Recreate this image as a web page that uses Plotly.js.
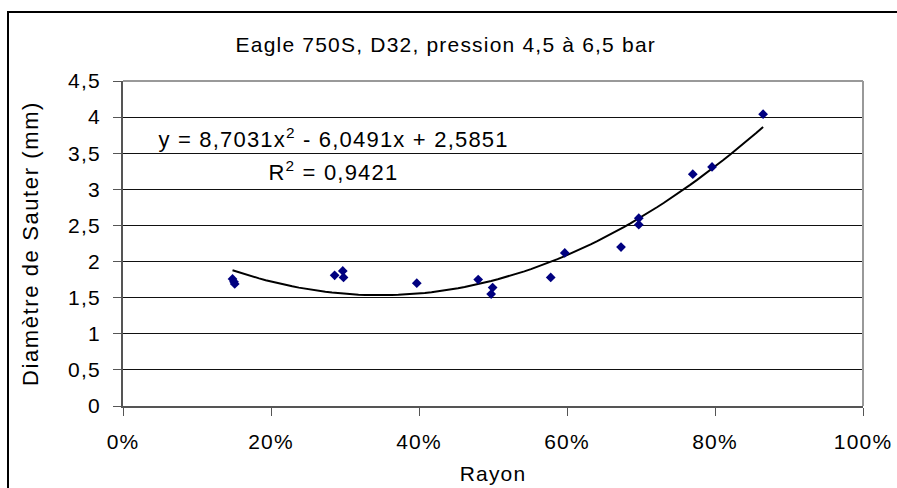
<!DOCTYPE html>
<html>
<head>
<meta charset="utf-8">
<script src="https://cdn.plot.ly/plotly-3.0.1.min.js"></script>
<style>
  html, body { margin: 0; padding: 0; background: #fff; overflow: hidden; }
  #wrap { position: relative; width: 897px; height: 488px; }
  #chart { position: absolute; left: 0; top: 0; width: 897px; height: 488px; }
  #chart text { letter-spacing: 1.2px; }
  #chart .ytitle { letter-spacing: 1.6px; }
  #frame {
    position: absolute; left: 7px; top: 11px; width: 2000px; height: 2000px;
    border-left: 2px solid #000; border-top: 2px solid #000;
    pointer-events: none;
  }
</style>
</head>
<body>
<div id="wrap">
  <div id="chart"></div>
  <div id="frame"></div>
</div>
<script>
// Measured droplet diameters along the spray radius
const rayon = [0.148, 0.150, 0.151, 0.286, 0.297, 0.298, 0.397, 0.480, 0.4995,
               0.4975, 0.578, 0.597, 0.673, 0.697, 0.697, 0.770, 0.796, 0.865];
const diametre = [1.76, 1.72, 1.69, 1.81, 1.87, 1.78, 1.70, 1.75, 1.64,
                  1.55, 1.78, 2.12, 2.20, 2.60, 2.51, 3.21, 3.31, 4.04];

// Second-order polynomial trend line: a*x^2 + b*x + c
const trendCoef = [8.7031, -6.0491, 2.5851];
const trendR2 = 0.9421;

// Axis ticks
const xTickVals = [0, 0.2, 0.4, 0.6, 0.8, 1.0];
const xTickText = ['0%', '20%', '40%', '60%', '80%', '100%'];
const yTickVals = [0, 0.5, 1, 1.5, 2, 2.5, 3, 3.5, 4, 4.5];
const yTickText = ['0', '0,5', '1', '1,5', '2', '2,5', '3', '3,5', '4', '4,5'];

const chartTitle = 'Eagle 750S, D32, pression 4,5 à 6,5 bar';
const xTitle = 'Rayon';
const yTitle = 'Diamètre de Sauter (mm)';

// Trend curve sampled over the measured radius span
const xMin = Math.min(...rayon), xMax = Math.max(...rayon);
const nSteps = 80;
const trendX = [], trendY = [];
for (let i = 0; i <= nSteps; i++) {
  const x = xMin + (xMax - xMin) * i / nSteps;
  trendX.push(x);
  trendY.push(trendCoef[0] * x * x + trendCoef[1] * x + trendCoef[2]);
}

const fr = v => v.toFixed(4).replace('.', ',');
const eqText = 'y = ' + fr(trendCoef[0]) + 'x<sup>2</sup> - ' + fr(-trendCoef[1]) +
               'x + ' + fr(trendCoef[2]);
const r2Text = 'R<sup>2</sup> = ' + fr(trendR2);

const FONT = 'Liberation Sans, Arial, sans-serif';

const traces = [
  {
    x: trendX, y: trendY, type: 'scatter', mode: 'lines',
    line: { color: '#000', width: 2 }, hoverinfo: 'skip'
  },
  {
    x: rayon, y: diametre, type: 'scatter', mode: 'markers',
    marker: { symbol: 'diamond', size: 7.5, color: '#000080' }
  }
];

const layout = {
  width: 897, height: 488,
  margin: { l: 123, r: 34, t: 81, b: 82 },
  paper_bgcolor: '#fff', plot_bgcolor: '#fff',
  showlegend: false,
  separators: ', ',
  font: { family: FONT, size: 21, color: '#000' },
  title: {
    text: chartTitle, font: { family: FONT, size: 21, color: '#000' },
    xref: 'container', x: 0.497, yref: 'container', y: 0.908, yanchor: 'middle'
  },
  xaxis: {
    range: [0, 1], tickvals: xTickVals, ticktext: xTickText,
    showgrid: false, zeroline: false,
    showline: true, linecolor: '#555', linewidth: 2,
    ticks: 'outside', ticklen: 8, tickcolor: '#555', tickwidth: 1,
    ticklabelstandoff: 8,
    tickfont: { family: FONT, size: 21, color: '#000' },
    title: { text: xTitle, font: { family: FONT, size: 21, color: '#000' }, standoff: 14 },
    fixedrange: true
  },
  yaxis: {
    range: [0, 4.5], tickvals: yTickVals, ticktext: yTickText,
    showgrid: true, gridcolor: '#111', gridwidth: 1, zeroline: false,
    showline: true, linecolor: '#555', linewidth: 2,
    ticks: 'outside', ticklen: 8, tickcolor: '#555', tickwidth: 1,
    ticklabelstandoff: 8,
    tickfont: { family: FONT, size: 21, color: '#000' },
    title: { text: yTitle, font: { family: FONT, size: 22, color: '#000' }, standoff: 27 },
    fixedrange: true
  },
  shapes: [
    { type: 'line', xref: 'paper', yref: 'paper', x0: 0, x1: 1, y0: 1, y1: 1,
      line: { color: '#999', width: 2 }, layer: 'above' },
    { type: 'line', xref: 'paper', yref: 'paper', x0: 1, x1: 1, y0: 0, y1: 1,
      line: { color: '#999', width: 2 }, layer: 'above' }
  ],
  annotations: [
    { xref: 'x', yref: 'y', x: 0.285, y: 3.71, text: eqText, showarrow: false,
      font: { family: FONT, size: 22, color: '#000' }, xanchor: 'center', yanchor: 'middle' },
    { xref: 'x', yref: 'y', x: 0.285, y: 3.25, text: r2Text, showarrow: false,
      font: { family: FONT, size: 22, color: '#000' }, xanchor: 'center', yanchor: 'middle' }
  ]
};

Plotly.newPlot('chart', traces, layout, { displayModeBar: false, staticPlot: true });
</script>
</body>
</html>
